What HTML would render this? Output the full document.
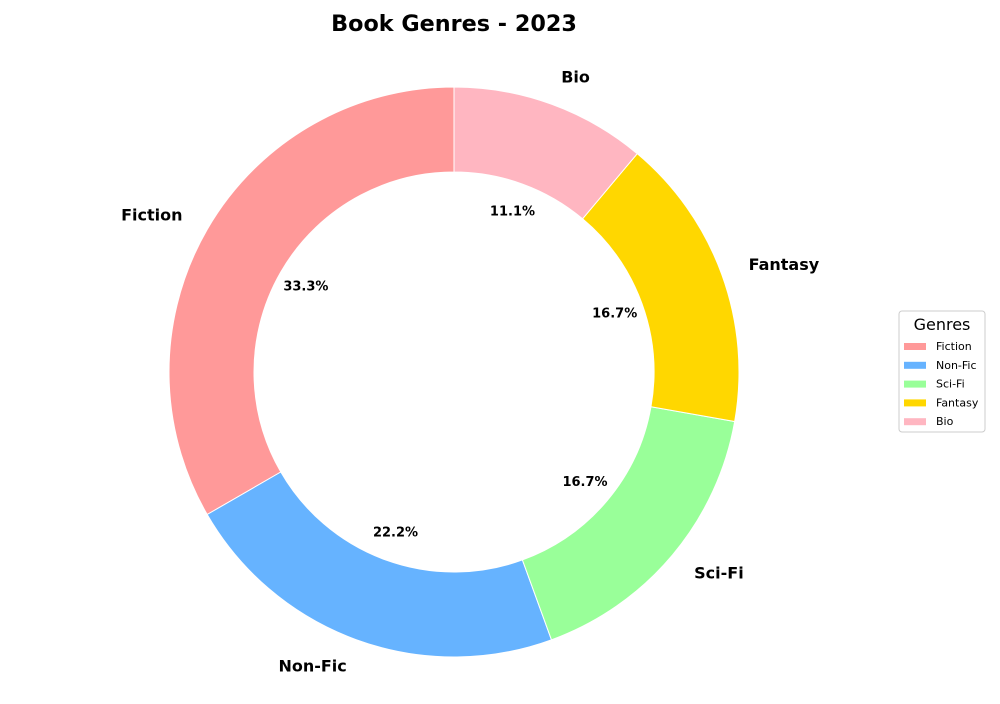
<!DOCTYPE html>
<html><head><meta charset="utf-8"><style>
body{margin:0;background:#fff;font-family:"DejaVu Sans","Liberation Sans",sans-serif}
</style></head><body>
<svg id="chart" width="1000" height="700" xmlns="http://www.w3.org/2000/svg">
<text x="454" y="31" text-anchor="middle" font-size="22.3" font-weight="bold">Book Genres - 2023</text>
<g id="slices"></g>
<g>
<rect x="899" y="311" width="86" height="121" rx="3" fill="#fff" stroke="#ccc" stroke-width="1"/>
<text x="942" y="330" text-anchor="middle" font-size="16">Genres</text>
<g id="legend-items"></g>
</g>
</svg>
<script>
const categories=["Fiction","Non-Fic","Sci-Fi","Fantasy","Bio"];
const values=[30,20,15,15,10];
const colors=["#ff9999","#66b3ff","#99ff99","#ffd700","#ffb6c1"];
const cx=454,cy=372,R=285,r=200;
const NS="http://www.w3.org/2000/svg";
const total=values.reduce((a,b)=>a+b,0);
const g=document.getElementById('slices');
function pt(rad,a){return [cx+rad*Math.cos(a),cy-rad*Math.sin(a)];}
let ang=90;
values.forEach((v,i)=>{
  const sweep=v/total*360;
  const a0=ang*Math.PI/180,a1=(ang+sweep)*Math.PI/180;
  const large=sweep>180?1:0;
  const p0=pt(R,a0),p1=pt(R,a1),q1=pt(r,a1),q0=pt(r,a0);
  const path=document.createElementNS(NS,'path');
  path.setAttribute('d',`M${p0[0]},${p0[1]} A${R},${R} 0 ${large} 0 ${p1[0]},${p1[1]} L${q1[0]},${q1[1]} A${r},${r} 0 ${large} 1 ${q0[0]},${q0[1]} Z`);
  path.setAttribute('fill',colors[i]);
  path.setAttribute('stroke','#fff');
  path.setAttribute('stroke-width','1');
  
  
  g.appendChild(path);
  const mid=(ang+sweep/2)*Math.PI/180;
  const lp=pt(R*1.1,mid);
  const t=document.createElementNS(NS,'text');
  const c=Math.cos(mid);
  t.setAttribute('x',lp[0]);t.setAttribute('y',lp[1]+5);
  t.setAttribute('text-anchor',c<-0.01?'end':(c>0.01?'start':'middle'));
  t.setAttribute('font-size','16');t.setAttribute('font-weight','bold');
  t.textContent=categories[i];
  
  
  g.appendChild(t);
  const pp=pt(R*0.6,mid);
  const pt2=document.createElementNS(NS,'text');
  pt2.setAttribute('x',pp[0]);pt2.setAttribute('y',pp[1]+4);
  pt2.setAttribute('text-anchor','middle');
  pt2.setAttribute('font-size','13');pt2.setAttribute('font-weight','bold');
  pt2.textContent=(v/total*100).toFixed(1)+'%';
  
  
  g.appendChild(pt2);
  ang+=sweep;
});
const lg=document.getElementById('legend-items');
categories.forEach((c,i)=>{
  const y=346+i*18.8;
  const rc=document.createElementNS(NS,'rect');
  rc.setAttribute('x',904);rc.setAttribute('y',y-3);rc.setAttribute('width',22);rc.setAttribute('height',7);
  rc.setAttribute('fill',colors[i]);
  
  
  lg.appendChild(rc);
  const t=document.createElementNS(NS,'text');
  t.setAttribute('x',936);t.setAttribute('y',y+4);t.setAttribute('font-size','11');
  t.textContent=c;
  
  
  lg.appendChild(t);
});
</script>
</body></html>
